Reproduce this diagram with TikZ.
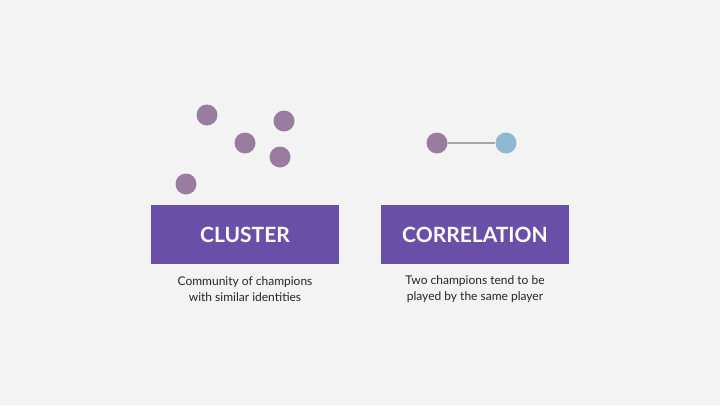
\documentclass[tikz,border=0pt]{standalone}
\usepackage{fontspec}
\setmainfont{Lato}
\begin{document}
\begin{tikzpicture}[x=1pt,y=-1pt,
  dot/.style={circle,fill=dotp,inner sep=0pt,minimum size=21pt},
  box/.style={fill=boxp,minimum width=188pt,minimum height=59pt,inner sep=0pt,text=white,font=\fontsize{21}{24}\selectfont\bfseries},
  captext/.style={align=center,font=\fontsize{12}{16}\selectfont,text=black!85}]
\definecolor{bg}{HTML}{F3F3F3}
\definecolor{dotp}{HTML}{9A7CA0}
\definecolor{dotb}{HTML}{8FB9D1}
\definecolor{boxp}{HTML}{6A4FA8}
\fill[bg] (0,0) rectangle (720,405);
\useasboundingbox (0,0) rectangle (720,405);
\node[dot] (c1) at (207,115) {};
\node[dot] (c2) at (245,143) {};
\node[dot] (c3) at (284,121) {};
\node[dot] (c4) at (280,157) {};
\node[dot] (c5) at (186,184) {};
\node[dot] (a) at (437,143) {};
\node[dot,fill=dotb] (b) at (506,143) {};
\draw[gray!70,line width=1.2pt] (a) -- (b);
\node[box] (k1) at (245,234.5) {CLUSTER};
\node[box] (k2) at (475,234.5) {CORRELATION};
\node[captext] (t1) at (245,289) {Community of champions\\with similar identities};
\node[captext] (t2) at (475,289) {Two champions tend to be\\played by the same player};
\end{tikzpicture}
\end{document}
